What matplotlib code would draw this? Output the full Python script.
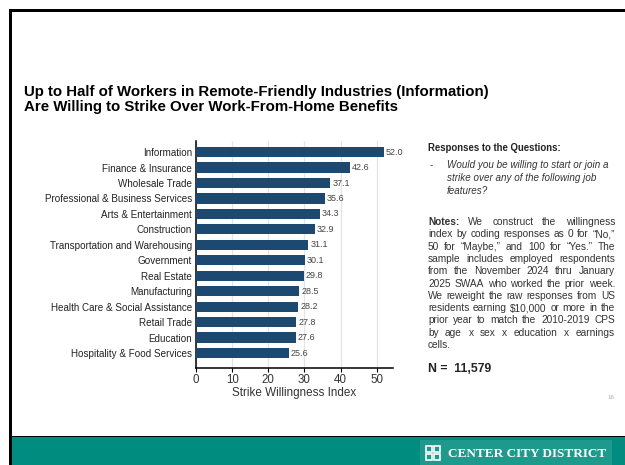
import matplotlib.pyplot as plt
from matplotlib.patches import Rectangle

plt.rcParams['font.family'] = ['Liberation Sans', 'DejaVu Sans']

industries = ['Information', 'Finance & Insurance', 'Wholesale Trade',
              'Professional & Business Services', 'Arts & Entertainment',
              'Construction', 'Transportation and Warehousing', 'Government',
              'Real Estate', 'Manufacturing', 'Health Care & Social Assistance',
              'Retail Trade', 'Education', 'Hospitality & Food Services']
index_values = [52.0, 42.6, 37.1, 35.6, 34.3, 32.9, 31.1, 30.1, 29.8, 28.5,
                28.2, 27.8, 27.6, 25.6]
x_ticks = [0, 10, 20, 30, 40, 50]

title_lines = ['Up to Half of Workers in Remote-Friendly Industries (Information)',
               'Are Willing to Strike Over Work-From-Home Benefits']
question_lines = ['Would you be willing to start or join a',
                  'strike over any of the following job',
                  'features?']
notes_lines = ['Notes: We construct the willingness',
               'index by coding responses as 0 for \u201cNo,\u201d',
               '50 for \u201cMaybe,\u201d and 100 for \u201cYes.\u201d The',
               'sample includes employed respondents',
               'from the November 2024 thru January',
               '2025 SWAA who worked the prior week.',
               'We reweight the raw responses from US',
               'residents earning $10,000 or more in the',
               'prior year to match the 2010-2019 CPS',
               'by age x sex x education x earnings',
               'cells.']

BAR = '#1d4870'
TEAL = '#008d7f'
TXT = '#333333'

fig = plt.figure(figsize=(6.25, 4.65), dpi=100)

# page layer in pixel coordinates
bg = fig.add_axes([0, 0, 1, 1])
bg.set_xlim(0, 625)
bg.set_ylim(465, 0)
bg.axis('off')

bg.add_patch(Rectangle((12, 437), 613, 28, color=TEAL, lw=0))
bg.add_patch(Rectangle((420, 440), 192, 25, color='#1d9a8c', lw=0))
bg.add_patch(Rectangle((9, 9), 616, 3, color='black', lw=0))
bg.add_patch(Rectangle((9, 9), 3, 456, color='black', lw=0))
bg.add_patch(Rectangle((12, 435.5), 613, 1.8, color='black', lw=0))

# logo mark
for dx, dy in [(0, 0), (8, 0), (0, 8), (8, 8)]:
    bg.add_patch(Rectangle((426 + dx, 446 + dy), 6, 6, facecolor='none',
                           edgecolor='white', lw=1.2))
bg.text(448, 454, 'CENTER CITY DISTRICT', family='Liberation Serif',
        weight='bold', fontsize=9.5, color='white', va='center', ha='left')

for i, line in enumerate(title_lines):
    bg.text(24, 92 + i * 14.5, line, fontsize=10.8, weight='bold',
            color='black', va='center', ha='left')

bg.text(428, 148, 'Responses to the Questions:', fontsize=6.9,
        weight='bold', color='#222222', va='center')
bg.text(430, 165, '-', fontsize=7, color=TXT, va='center')
for i, line in enumerate(question_lines):
    bg.text(447, 165 + i * 13, line, fontsize=7.1, style='italic',
            color=TXT, va='center')

fig.canvas.draw()
renderer = fig.canvas.get_renderer()


def justify(words, y, x0, x1, bold_first=False, spread=True):
    items = []
    for j, w in enumerate(words):
        wt = 'bold' if (bold_first and j == 0) else 'normal'
        items.append(bg.text(0, y, w, fontsize=7.3, color=TXT,
                             va='center', ha='left', weight=wt))
    inv = bg.transData.inverted()
    widths = []
    for t in items:
        bb = t.get_window_extent(renderer)
        p0 = inv.transform((bb.x0, bb.y0))
        p1 = inv.transform((bb.x1, bb.y0))
        widths.append(p1[0] - p0[0])
    if spread and len(items) > 1:
        gap = (x1 - x0 - sum(widths)) / (len(items) - 1)
    else:
        gap = 2.2
    x = x0
    for t, w in zip(items, widths):
        t.set_x(x)
        x += w + gap


for i, line in enumerate(notes_lines):
    last = i == len(notes_lines) - 1
    justify(line.split(' '), 222 + i * 12.3, 428, 615,
            bold_first=(i == 0), spread=not last)

bg.text(428, 369, 'N =  11,579', fontsize=8.8, weight='bold',
        color='#222222', va='center')
bg.text(607, 397, '16', fontsize=4.5, color='#aaaaaa', va='center')

# bar chart
ax = fig.add_axes([196 / 625, 97 / 465, 197 / 625, 227 / 465])
ypos = list(range(len(industries)))
ax.barh(ypos, index_values, height=0.66, color=BAR, zorder=3)
for y, v in zip(ypos, index_values):
    ax.text(v + 0.6, y, f'{v:.1f}', fontsize=6.5, color='#444444',
            va='center', ha='left', zorder=4)

ax.set_xlim(0, 54.5)
ax.set_ylim(len(industries) - 0.03, -0.72)
ax.set_yticks(ypos)
ax.set_yticklabels(industries, fontsize=7.1, color='#222222')
ax.tick_params(axis='y', length=0, pad=3)
ax.set_xticks(x_ticks)
ax.set_xticklabels([str(t) for t in x_ticks], fontsize=8.3, color='#333333')
ax.tick_params(axis='x', length=3, width=0.8, pad=1.5)
ax.set_xlabel('Strike Willingness Index', fontsize=8.4, color='#333333',
              labelpad=0.5)
ax.grid(axis='x', color='#e4e4e4', lw=0.9, zorder=0)
ax.spines['top'].set_visible(False)
ax.spines['right'].set_visible(False)
ax.spines['left'].set_linewidth(1.1)
ax.spines['bottom'].set_linewidth(1.1)
ax.patch.set_alpha(0)

fig.savefig('out.png', dpi=100)
